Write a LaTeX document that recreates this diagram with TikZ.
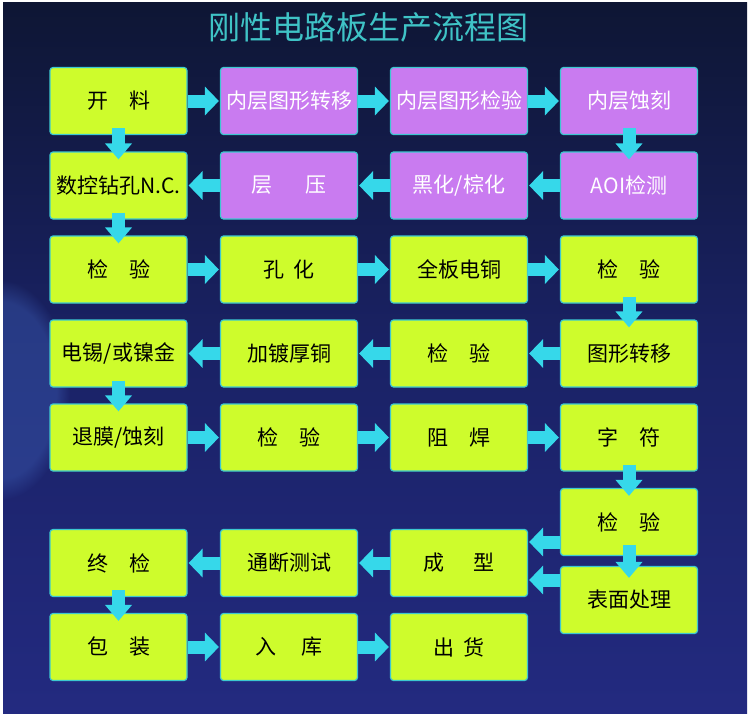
\documentclass[tikz,border=0pt]{standalone}
\usepackage{fontspec}
\newfontfamily\cjk{Noto Sans CJK SC}
\usetikzlibrary{arrows.meta,calc,fadings}
\definecolor{boxy}{HTML}{CEFC2C}
\definecolor{boxp}{HTML}{C97BF0}
\definecolor{edgec}{HTML}{3CC8D0}
\definecolor{arrc}{HTML}{36D8EA}
\definecolor{titlec}{HTML}{3FC3C6}
\definecolor{bgtop}{HTML}{0E1634}
\definecolor{bgmid}{HTML}{1A2266}
\definecolor{bgbot}{HTML}{232A80}
\definecolor{glowc}{HTML}{3A5AB0}
\begin{document}
\begin{tikzpicture}[x=1pt,y=-1pt,
  box/.style={draw=edgec, line width=1.2pt, rounded corners=3pt, fill=boxy,
    minimum width=137pt, minimum height=67pt, inner sep=0pt,
    font=\cjk\fontsize{21}{24}\selectfont, text=black},
  pbox/.style={box, fill=boxp, text=white},
  harr/.style={arrc, line width=13pt, -{Triangle[width=28pt,length=14pt]}, shorten >=1pt},
  varr/.style={arrc, line width=13pt, -{Triangle[width=26pt,length=16pt]}}
]
\useasboundingbox (0,0) rectangle (750,716);
\fill[white] (0,0) rectangle (750,716);
\shade[top color=bgtop, bottom color=bgbot, middle color=bgmid] (3,2) rectangle (747,713);
\begin{scope}
  \clip (3,2) rectangle (747,713);
  \fill[glowc, opacity=0.45, path fading=circle with fuzzy edge 20 percent] (0,390) ellipse (70pt and 110pt);
\end{scope}

\node[text=titlec, font=\cjk\fontsize{32}{36}\selectfont] (title) at (368,27) {刚性电路板生产流程图};

% row 1
\node[box]  (kl)  at (118.5,101) {开\hspace{1em}料};
\node[pbox] (nzy) at (289,101) {内层图形转移};
\node[pbox] (njy) at (459,101) {内层图形检验};
\node[pbox] (nsk) at (629,101) {内层蚀刻};
% row 2
\node[box]  (zk)  at (118.5,185.5) {数控钻孔N.C.};
\node[pbox] (cy)  at (289,185.5) {层\hspace{1.6em}压};
\node[pbox] (hh)  at (459,185.5) {黑化/棕化};
\node[pbox] (aoi) at (629,185.5) {AOI检测};
% row 3
\node[box] (jy3a) at (118.5,269.5) {检\hspace{1em}验};
\node[box] (kh)   at (289,269.5) {孔\hspace{0.4em}化};
\node[box] (qb)   at (459,269.5) {全板电铜};
\node[box] (jy3d) at (629,269.5) {检\hspace{1em}验};
% row 4
\node[box] (dx)   at (118.5,353.5) {电锡/或镍金};
\node[box] (jd)   at (289,353.5) {加镀厚铜};
\node[box] (jy4c) at (459,353.5) {检\hspace{1em}验};
\node[box] (tx)   at (629,353.5) {图形转移};
% row 5
\node[box] (tm)   at (118.5,437.5) {退膜/蚀刻};
\node[box] (jy5b) at (289,437.5) {检\hspace{1em}验};
\node[box] (zh)   at (459,437.5) {阻\hspace{1em}焊};
\node[box] (zf)   at (629,437.5) {字\hspace{1em}符};
% row 6
\node[box] (jy6d) at (629,522) {检\hspace{1em}验};
\node[box] (zj)   at (118.5,563) {终\hspace{1em}检};
\node[box] (td)   at (289,563) {通断测试};
\node[box] (cx)   at (459,563) {成\hspace{1.4em}型};
\node[box] (bm)   at (629,600) {表面处理};
% row 7
\node[box] (bz)   at (118.5,647) {包\hspace{1em}装};
\node[box] (rk)   at (289,647) {入\hspace{1.2em}库};
\node[box] (ch)   at (459,647) {出\hspace{0.4em}货};

% arrows row 1
\draw[harr] (kl.east) -- (nzy.west);
\draw[harr] (nzy.east) -- (njy.west);
\draw[harr] (njy.east) -- (nsk.west);
\draw[varr] ([yshift=7pt]nsk.south) -- ([yshift=-8pt]aoi.north);
\draw[varr] ([yshift=7pt]kl.south) -- ([yshift=-8pt]zk.north);
% row 2
\draw[harr] (aoi.west) -- (hh.east);
\draw[harr] (hh.west) -- (cy.east);
\draw[harr] (cy.west) -- (zk.east);
\draw[varr] ([yshift=7pt]zk.south) -- ([yshift=-8pt]jy3a.north);
% row 3
\draw[harr] (jy3a.east) -- (kh.west);
\draw[harr] (kh.east) -- (qb.west);
\draw[harr] (qb.east) -- (jy3d.west);
\draw[varr] ([yshift=7pt]jy3d.south) -- ([yshift=-8pt]tx.north);
% row 4
\draw[harr] (tx.west) -- (jy4c.east);
\draw[harr] (jy4c.west) -- (jd.east);
\draw[harr] (jd.west) -- (dx.east);
\draw[varr] ([yshift=7pt]dx.south) -- ([yshift=-8pt]tm.north);
% row 5
\draw[harr] (tm.east) -- (jy5b.west);
\draw[harr] (jy5b.east) -- (zh.west);
\draw[harr] (zh.east) -- (zf.west);
\draw[varr] ([yshift=7pt]zf.south) -- ([yshift=-8pt]jy6d.north);
% row 6
\draw[harr] ([yshift=-20pt]jy6d.west) -- ([yshift=-20pt]jy6d.west -| cx.east);
\draw[varr] ([yshift=11pt]jy6d.south) -- ([yshift=-12pt]bm.north);
\draw[harr] ([yshift=20pt]bm.west) -- ([yshift=20pt]bm.west -| cx.east);
\draw[harr] (cx.west) -- (td.east);
\draw[harr] (td.west) -- (zj.east);
\draw[varr] ([yshift=7pt]zj.south) -- ([yshift=-8pt]bz.north);
% row 7
\draw[harr] (bz.east) -- (rk.west);
\draw[harr] (rk.east) -- (ch.west);
\end{tikzpicture}
\end{document}
